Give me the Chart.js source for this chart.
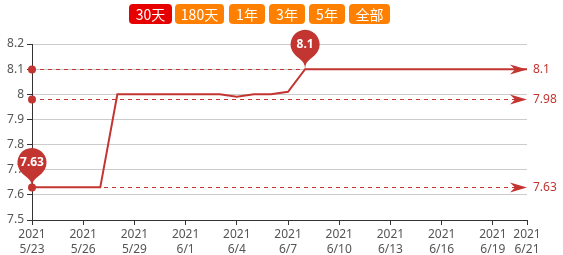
<!DOCTYPE html>
<html>
<head>
<meta charset="utf-8">
<script src="https://cdn.jsdelivr.net/npm/chart.js@4"></script>
<style>
  body { margin: 0; background: #fff; }
  #wrap { position: relative; width: 563px; height: 255px; }
  #navChart { position: absolute; left: 0; top: 0; }
  .btn {
    position: absolute; top: 4px; height: 20px; line-height: 20px;
    color: #fff; font: 14px "Noto Sans CJK SC", sans-serif; text-align: center;
    border-radius: 4px; background: #ff8000;
  }
  .btn.on { background: #e60000; }
</style>
</head>
<body>
<div id="wrap">
  <canvas id="navChart" width="563" height="255"></canvas>
  <div class="btn on" style="left:129px;width:43px">30天</div>
  <div class="btn" style="left:175px;width:49px">180天</div>
  <div class="btn" style="left:229px;width:36px">1年</div>
  <div class="btn" style="left:269px;width:36px">3年</div>
  <div class="btn" style="left:309px;width:36px">5年</div>
  <div class="btn" style="left:349px;width:41px">全部</div>
</div>
<script>
const dates = ['5/23','5/24','5/25','5/26','5/27','5/28','5/29','5/30','5/31','6/1',
               '6/2','6/3','6/4','6/5','6/6','6/7','6/8','6/9','6/10','6/11',
               '6/12','6/13','6/14','6/15','6/16','6/17','6/18','6/19','6/20','6/21'];
const navValues = [7.63, 7.63, 7.63, 7.63, 7.63, 8.0, 8.0, 8.0, 8.0, 8.0,
                   8.0, 8.0, 7.99, 8.0, 8.0, 8.01, 8.1, 8.1, 8.1, 8.1,
                   8.1, 8.1, 8.1, 8.1, 8.1, 8.1, 8.1, 8.1, 8.1, 8.1];
const tickDays = [0, 3, 6, 9, 12, 15, 18, 21, 24, 27, 29];
const tickYear = '2021';
const markLineValues = [8.1, 7.98, 7.63];
const markLineLabels = ['8.1', '7.98', '7.63'];
const markPointIdx = [16, 0];
const markPointLabels = ['8.1', '7.63'];

const RED = '#c23531';

function drawPin(ctx, x, y, text) {
    // echarts style pin, tip at (x, y)
    const r = 14.5, h = 46;
    const dy = r * r / (h - r);
    const cy = y - h + r + dy;
    const angle = Math.asin(dy / r);
    const dx = Math.cos(angle) * r;
    const tanX = Math.sin(angle), tanY = Math.cos(angle);
    const cpLen = r * 0.6, cpLen2 = r * 0.7;
    ctx.beginPath();
    ctx.moveTo(x - dx, cy + dy);
    ctx.arc(x, cy, r, Math.PI - angle, Math.PI * 2 + angle);
    ctx.bezierCurveTo(x + dx - tanX * cpLen, cy + dy + tanY * cpLen, x, y - cpLen2, x, y);
    ctx.bezierCurveTo(x, y - cpLen2, x - dx + tanX * cpLen, cy + dy + tanY * cpLen, x - dx, cy + dy);
    ctx.closePath();
    ctx.fillStyle = RED;
    ctx.fill();
    ctx.fillStyle = '#fff';
    ctx.font = 'bold 12px "Noto Sans", sans-serif';
    ctx.textAlign = 'center';
    ctx.textBaseline = 'middle';
    ctx.fillText(text, x, cy);
}

const markPlugin = {
    id: 'marks',
    afterDatasetsDraw(chart) {
        const ctx = chart.ctx, area = chart.chartArea;
        const ys = chart.scales.y, xs = chart.scales.x;
        ctx.save();
        markLineValues.forEach((v, i) => {
            const y = Math.round(ys.getPixelForValue(v)) + 0.5;
            const x0 = area.left, x1 = area.right;
            ctx.strokeStyle = RED;
            ctx.lineWidth = 1;
            ctx.setLineDash([4, 4]);
            ctx.beginPath();
            ctx.moveTo(x0, y);
            ctx.lineTo(x1 - 12, y);
            ctx.stroke();
            ctx.setLineDash([]);
            // start dot
            ctx.fillStyle = RED;
            ctx.beginPath();
            ctx.arc(x0, y, 4, 0, Math.PI * 2);
            ctx.fill();
            // arrow head
            ctx.beginPath();
            ctx.moveTo(x1, y);
            ctx.lineTo(x1 - 17, y - 5);
            ctx.lineTo(x1 - 12, y);
            ctx.lineTo(x1 - 17, y + 5);
            ctx.closePath();
            ctx.fill();
            ctx.font = '12px "Noto Sans", sans-serif';
            ctx.textAlign = 'left';
            ctx.textBaseline = 'middle';
            ctx.fillText(markLineLabels[i], x1 + 6, y);
        });
        markPointIdx.forEach((idx, i) => {
            drawPin(ctx, xs.getPixelForValue(idx), ys.getPixelForValue(navValues[idx]), markPointLabels[i]);
        });
        ctx.restore();
    }
};

new Chart(document.getElementById('navChart'), {
    type: 'line',
    data: {
        datasets: [{
            data: navValues.map((v, i) => ({ x: i, y: v })),
            borderColor: RED,
            borderWidth: 2,
            pointRadius: 0,
            tension: 0,
            fill: false
        }]
    },
    options: {
        responsive: false,
        animation: false,
        devicePixelRatio: 1,
        layout: { padding: { top: 44, right: 36, left: 0, bottom: 0 } },
        plugins: { legend: { display: false }, tooltip: { enabled: false } },
        scales: {
            x: {
                type: 'linear', min: 0, max: dates.length - 1,
                afterBuildTicks: s => { s.ticks = tickDays.map(v => ({ value: v })); },
                afterFit: s => { s.height = 35; },
                grid: { drawOnChartArea: false, tickLength: 5, tickColor: '#333' },
                border: { color: '#333' },
                ticks: {
                    autoSkip: false, maxRotation: 0, padding: 2,
                    color: '#555', font: { size: 12, family: '"Noto Sans", sans-serif', lineHeight: 1.25 },
                    callback: v => [tickYear, dates[v]]
                }
            },
            y: {
                min: 7.5, max: 8.2,
                afterFit: s => { s.width = 32; },
                grid: { color: '#ccc', tickLength: 5, tickColor: '#333' },
                border: { color: '#333' },
                ticks: {
                    stepSize: 0.1, padding: 3,
                    color: '#555', font: { size: 12, family: '"Noto Sans", sans-serif' },
                    callback: v => String(Number(v.toFixed(2)))
                }
            }
        }
    },
    plugins: [markPlugin]
});
</script>
</body>
</html>
